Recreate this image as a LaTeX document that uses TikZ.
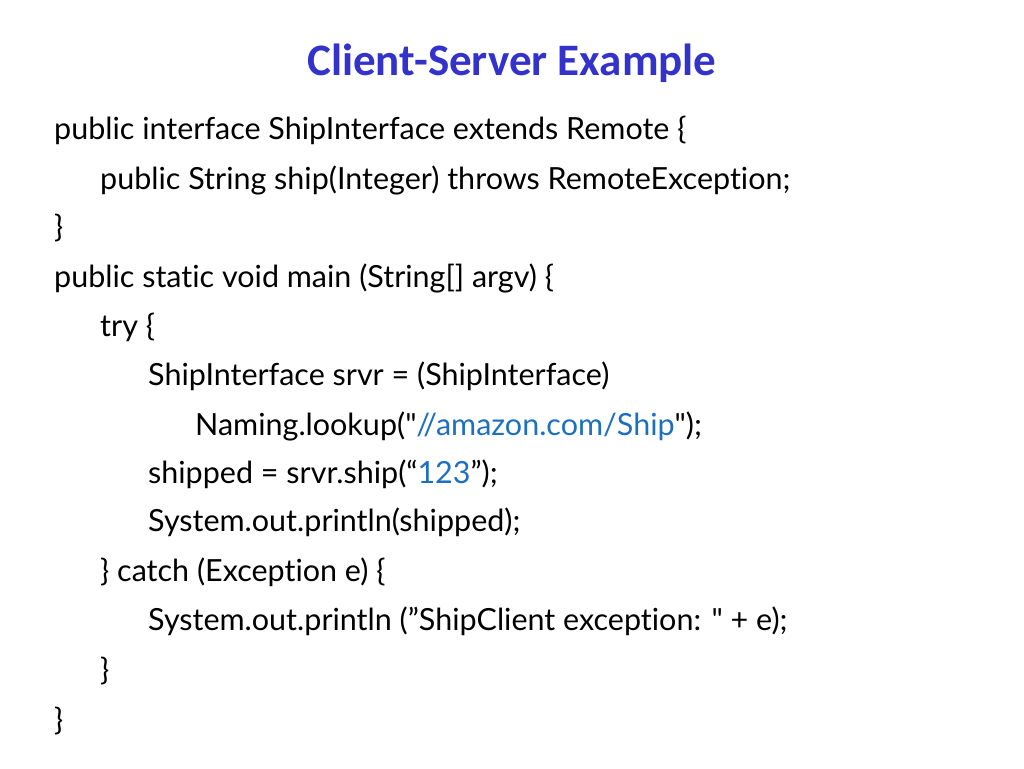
\documentclass[tikz,border=0pt]{standalone}
\usepackage{fontspec}
\setmainfont[Ligatures={NoCommon},Mapping=]{Lato}
\newfontfamily\titlefont{Carlito}
\definecolor{titleblue}{HTML}{3333CC}
\definecolor{linkblue}{HTML}{1F6FBF}
\newcommand{\dq}{\symbol{34}}
\begin{document}
\begin{tikzpicture}[x=1pt,y=-1pt,
  codeline/.style={anchor=west,inner sep=0pt,font=\fontsize{30.5}{35}\selectfont}]
\useasboundingbox (0,0) rectangle (1024,768);
\node[font=\titlefont\bfseries\fontsize{45}{50}\selectfont,text=titleblue] (title) at (512,63) {Client-Server Example};
\node[codeline] (l1) at (54,130) {public interface ShipInterface extends Remote \{};
\node[codeline] (l2) at (100,180) {public String ship(Integer) throws RemoteException;};
\node[codeline] (l3) at (54,228) {\}};
\node[codeline] (l4) at (54,278) {public static void main (String[] argv) \{};
\node[codeline] (l5) at (100,327) {try \{};
\node[codeline] (l6) at (148,376) {ShipInterface srvr = (ShipInterface)};
\node[codeline] (l7) at (195,426) {Naming.lookup(\dq\textcolor{linkblue}{//amazon.com/Ship}\dq);};
\node[codeline] (l8) at (148,474) {shipped = srvr.ship(“\textcolor{linkblue}{123}”);};
\node[codeline] (l9) at (148,522) {System.out.println(shipped);};
\node[codeline] (l10) at (100,572) {\} catch (Exception e) \{};
\node[codeline] (l11) at (148,621) {System.out.println (”ShipClient exception: \dq{} + e);};
\node[codeline] (l12) at (100,671) {\}};
\node[codeline] (l13) at (54,721) {\}};
\end{tikzpicture}
\end{document}
